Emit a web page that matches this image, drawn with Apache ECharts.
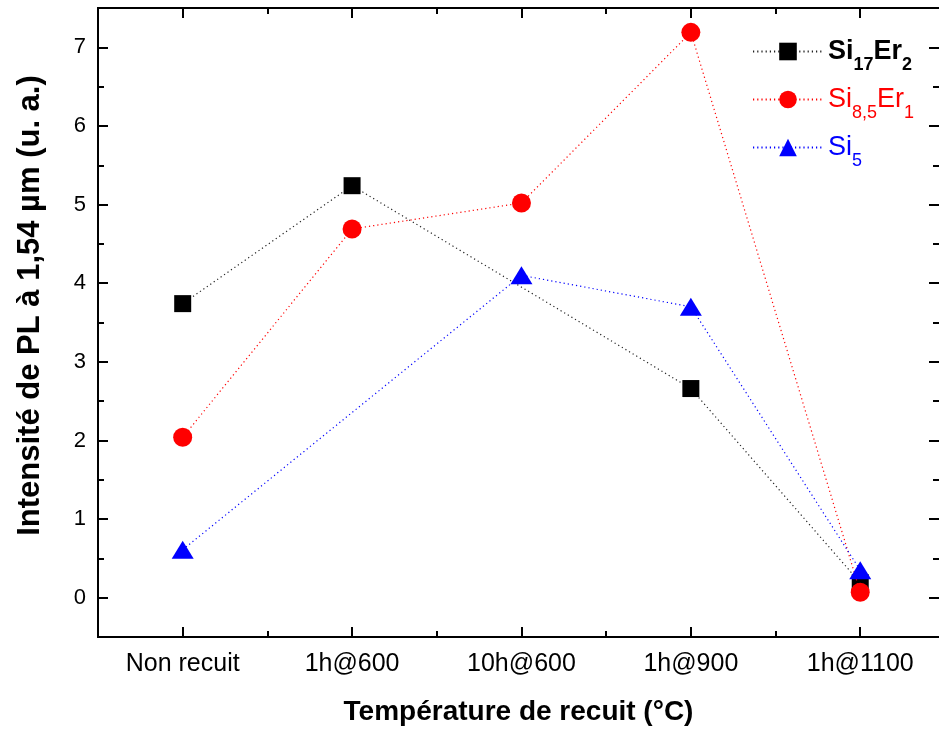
<!DOCTYPE html>
<html>
<head>
<meta charset="utf-8">
<script src="https://cdn.jsdelivr.net/npm/echarts@6/dist/echarts.min.js"></script>
<style>html,body{margin:0;padding:0;background:#fff;overflow:hidden}#c{width:939px;height:731px}</style>
</head>
<body>
<div id="c"></div>
<script>
var categories = ['Non recuit', '1h@600', '10h@600', '1h@900', '1h@1100'];
var si17er2 = [3.74, 5.24, null, 2.66, 0.19];
var si85er1 = [2.04, 4.69, 5.02, 7.19, 0.07];
var si5 = [0.61, null, 4.10, 3.70, 0.35];
var yTicks = [0, 1, 2, 3, 4, 5, 6, 7];
var yMinor = [0.5, 1.5, 2.5, 3.5, 4.5, 5.5, 6.5];
var xTicks = [1, 2, 3, 4, 5];
var xMinor = [1.5, 2.5, 3.5, 4.5];

function pts(arr) { return arr.map(function (v, i) { return [i + 1, v]; }); }

var FONT = 'Liberation Sans';
var axisLine = { show: true, onZero: false, lineStyle: { color: '#000', width: 2 } };
var noLine = { show: false, onZero: false };
function xAx(pos, ticks, len, labels, extra) {
  var o = {
    type: 'value', position: pos, min: 0.5, max: 5.465,
    axisLine: axisLine, splitLine: { show: false },
    axisTick: { show: true, inside: true, length: len, customValues: ticks, lineStyle: { color: '#000', width: 2 } },
    axisLabel: labels ? {
      show: true, customValues: xTicks, margin: 15, color: '#000', fontFamily: FONT, fontSize: 25,
      formatter: function (v) { return categories[Math.round(v) - 1] || ''; }
    } : { show: false }
  };
  for (var k in extra) o[k] = extra[k];
  return o;
}
function yAx(pos, ticks, len, labels, extra) {
  var o = {
    type: 'value', position: pos, min: -0.5, max: 7.5,
    axisLine: axisLine, splitLine: { show: false },
    axisTick: { show: true, inside: true, length: len, customValues: ticks, lineStyle: { color: '#000', width: 2 } },
    axisLabel: labels ? { show: true, customValues: yTicks, margin: 12, color: '#000', fontFamily: FONT, fontSize: 22 } : { show: false }
  };
  for (var k in extra) o[k] = extra[k];
  return o;
}

var chart = echarts.init(document.getElementById('c'), null, { renderer: 'canvas', width: 939, height: 731 });
var dot = [1.2, 3];
chart.setOption({
  animation: false,
  backgroundColor: '#fff',
  grid: { left: 98, top: 8, width: 843, height: 631, containLabel: false },
  xAxis: [
    xAx('bottom', xTicks, 10, true, {
      name: 'Température de recuit (°C)', nameLocation: 'middle', nameGap: 61,
      nameTextStyle: { fontFamily: FONT, fontSize: 28, fontWeight: 'bold', color: '#000' }
    }),
    xAx('bottom', xMinor, 6, false, {}),
    xAx('top', xTicks, 10, false, {}),
    xAx('top', xMinor, 6, false, {})
  ],
  yAxis: [
    yAx('left', yTicks, 10, true, {
      name: 'Intensité de PL à 1,54 µm (u. a.)', nameLocation: 'middle', nameGap: 52, nameRotate: 90,
      nameTextStyle: { fontFamily: FONT, fontSize: 31, fontWeight: 'bold', color: '#000', padding: [0, 0, 0, 34] }
    }),
    yAx('left', yMinor, 6, false, {}),
    yAx('right', yTicks, 10, false, { axisLine: noLine }),
    yAx('right', yMinor, 6, false, { axisLine: noLine })
  ],
  legend: {
    orient: 'vertical', left: 752, top: 38, itemWidth: 70, itemHeight: 22, itemGap: 12, padding: 0,
    data: ['Si17Er2', 'Si8,5Er1', 'Si5'],
    formatter: function (n) {
      if (n === 'Si17Er2') return '{kb|Si}{ks|17}{kb|Er}{ks|2}';
      if (n === 'Si8,5Er1') return '{r|Si}{rs|8,5}{r|Er}{rs|1}';
      return '{b|Si}{bs|5}';
    },
    textStyle: {
      fontFamily: FONT,
      rich: {
        kb: { fontFamily: FONT, fontSize: 27, fontWeight: 'bold', color: '#000', lineHeight: 45, verticalAlign: 'middle' },
        ks: { fontFamily: FONT, fontSize: 18, fontWeight: 'bold', color: '#000', lineHeight: 18, verticalAlign: 'bottom' },
        r: { fontFamily: FONT, fontSize: 27, color: '#ff0000', lineHeight: 45, verticalAlign: 'middle' },
        rs: { fontFamily: FONT, fontSize: 18, color: '#ff0000', lineHeight: 18, verticalAlign: 'bottom' },
        b: { fontFamily: FONT, fontSize: 27, color: '#0000ff', lineHeight: 45, verticalAlign: 'middle' },
        bs: { fontFamily: FONT, fontSize: 18, color: '#0000ff', lineHeight: 18, verticalAlign: 'bottom' }
      }
    }
  },
  series: [
    {
      name: 'Si17Er2', type: 'line', data: pts(si17er2), connectNulls: true,
      symbol: 'rect', symbolSize: 17, itemStyle: { color: '#000' },
      lineStyle: { color: '#222', width: 1.2, type: dot }, z: 2
    },
    {
      name: 'Si8,5Er1', type: 'line', data: pts(si85er1), connectNulls: true,
      symbol: 'circle', symbolSize: 19, itemStyle: { color: '#ff0000' },
      lineStyle: { color: '#ff0000', width: 1.2, type: dot }, z: 3
    },
    {
      name: 'Si5', type: 'line', data: pts(si5), connectNulls: true,
      symbol: 'triangle', symbolSize: [22, 18], itemStyle: { color: '#0000ff' },
      lineStyle: { color: '#0000ff', width: 1.2, type: dot }, z: 4
    }
  ]
});
</script>
</body>
</html>
